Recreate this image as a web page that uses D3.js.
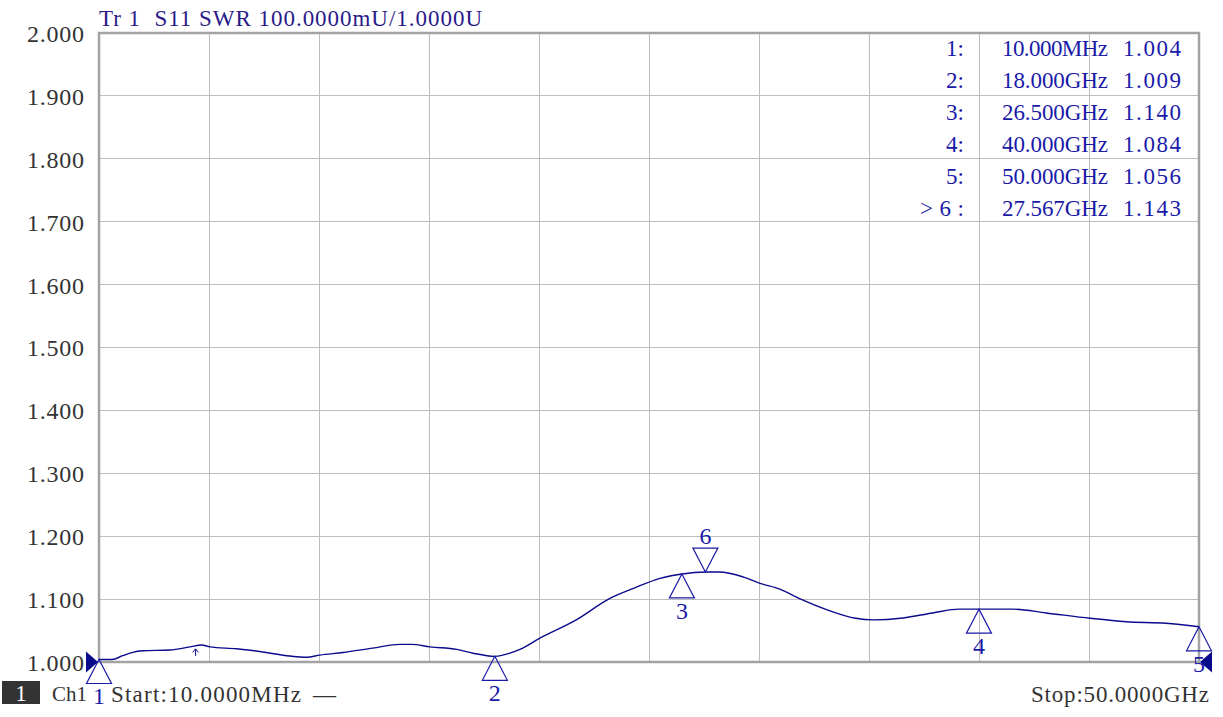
<!DOCTYPE html>
<html>
<head>
<meta charset="utf-8">
<script src="https://cdn.jsdelivr.net/npm/d3@7"></script>
<style>
  html, body { margin: 0; padding: 0; background: #fff; }
  svg { display: block; }
  text { font-family: "Liberation Serif", "DejaVu Serif", serif; }
</style>
</head>
<body>
<svg id="chart" width="1223" height="717"></svg>
<script>
// ---- data (GHz, SWR) ----
const traceFreq = [0.01, 0.6, 1.09, 1.5, 2.0, 3.23, 4.14, 4.68, 5.05, 6.27, 7.45, 8.68, 9.45, 10.05, 11.1, 12.45, 13.68, 14.23, 15.05, 16.27, 17.0, 18.0, 18.68, 19.14, 20.05, 21.7, 23.23, 24.3, 25.5, 26.5, 27.6, 28.2, 29.3, 30.05, 30.95, 31.9, 33.1, 34.4, 35.2, 36.55, 37.9, 39.1, 40.0, 41.55, 43.05, 45.05, 46.7, 48.5, 50.0];
const traceSWR  = [1.004, 1.004, 1.010, 1.015, 1.018, 1.019, 1.024, 1.027, 1.024, 1.021, 1.016, 1.0095, 1.0075, 1.011, 1.015, 1.022, 1.028, 1.028, 1.024, 1.020, 1.014, 1.009, 1.014, 1.020, 1.038, 1.067, 1.101, 1.117, 1.133, 1.140, 1.143, 1.143, 1.135, 1.125, 1.116, 1.100, 1.083, 1.0695, 1.067, 1.070, 1.078, 1.084, 1.084, 1.084, 1.078, 1.0695, 1.064, 1.0615, 1.056];

const markerIds   = ["1", "2", "3", "4", "5", "6"];
const markerFreq  = [0.01, 18.0, 26.5, 40.0, 50.0, 27.567];
const markerSWR   = [1.004, 1.009, 1.140, 1.084, 1.056, 1.143];
const markerFreqLabels = ["10.000MHz", "18.000GHz", "26.500GHz", "40.000GHz", "50.000GHz", "27.567GHz"];
const markerValLabels  = ["1.004", "1.009", "1.140", "1.084", "1.056", "1.143"];
const activeMarker = "6";

const yTicks = [1.0, 1.1, 1.2, 1.3, 1.4, 1.5, 1.6, 1.7, 1.8, 1.9, 2.0];
const xStart = 0.01, xStop = 50.0, xDivisions = 10;
const titleText = "Tr 1  S11 SWR 100.0000mU/1.0000U";
const startText = "Start:10.0000MHz";
const stopText = "Stop:50.0000GHz";
const smallArrowFreq = 4.4;

// ---- layout ----
const L = 99, R = 1199, T = 33, B = 662;
const svg = d3.select("#chart");
const x = d3.scaleLinear().domain([xStart, xStop]).range([L, R]);
const y = d3.scaleLinear().domain([1.0, 2.0]).range([B, T]);

const traceColor = "#0a0a8c";
const markColor = "#1a1aa8";
const gridColor = "#bdbdbd";
const frameColor = "#a3a3a3";
const labelColor = "#333333";

// gridlines
const xGrid = d3.range(xDivisions + 1).map(i => xStart + i * (xStop - xStart) / xDivisions);
svg.append("g").selectAll("line.vg").data(xGrid).join("line")
  .attr("x1", d => x(d)).attr("x2", d => x(d))
  .attr("y1", T).attr("y2", B)
  .attr("stroke", gridColor).attr("stroke-width", 1).attr("shape-rendering", "crispEdges");
svg.append("g").selectAll("line.hg").data(yTicks).join("line")
  .attr("x1", L).attr("x2", R)
  .attr("y1", d => y(d)).attr("y2", d => y(d))
  .attr("stroke", gridColor).attr("stroke-width", 1).attr("shape-rendering", "crispEdges");

// frame
svg.append("rect").attr("x", L).attr("y", T).attr("width", R - L).attr("height", B - T)
  .attr("fill", "none").attr("stroke", frameColor).attr("stroke-width", 2.5);

// y axis labels
const yAxis = d3.axisLeft(y).tickValues(yTicks).tickFormat(d3.format(".3f")).tickSize(0).tickPadding(15);
const gy = svg.append("g").attr("transform", `translate(${L},0)`).call(yAxis);
gy.select(".domain").remove();
gy.selectAll("text").attr("font-size", 24).attr("fill", labelColor)
  .attr("font-family", "Liberation Serif, serif").attr("dy", "0.35em")
  .attr("textLength", 57).attr("lengthAdjust", "spacing");

// title
svg.append("text").attr("x", L).attr("y", 26).attr("font-size", 23)
  .attr("fill", "#2a1a8a").style("white-space", "pre")
  .attr("textLength", 383).attr("lengthAdjust", "spacing").text(titleText);

// trace
const line = d3.line().x((d, i) => x(traceFreq[i])).y(d => y(d)).curve(d3.curveMonotoneX);
svg.append("path").datum(traceSWR).attr("d", line)
  .attr("fill", "none").attr("stroke", traceColor).attr("stroke-width", 1.4);

// small arrow under the trace
const ax = x(smallArrowFreq), ay = y(1.024) + 2;
svg.append("path")
  .attr("d", `M${ax},${ay} L${ax},${ay + 7} M${ax - 3},${ay + 3.5} L${ax},${ay} L${ax + 3},${ay + 3.5}`)
  .attr("fill", "none").attr("stroke", traceColor).attr("stroke-width", 1);

// reference / stimulus triangles
svg.append("path").attr("d", `M${L - 13},${y(1.0) - 10.5} L${L - 1},${y(1.0)} L${L - 13},${y(1.0) + 10.5} Z`)
  .attr("fill", traceColor);
svg.append("path").attr("d", `M${R + 13},${y(1.0) - 10.5} L${R + 1},${y(1.0)} L${R + 13},${y(1.0) + 10.5} Z`)
  .attr("fill", traceColor);

// markers
const mw = 12.5, mh = 24;
markerIds.forEach((id, i) => {
  const px = x(markerFreq[i]), py = y(markerSWR[i]);
  const g = svg.append("g");
  if (id === activeMarker) {
    g.append("path").attr("d", `M${px},${py} L${px - mw},${py - mh} L${px + mw},${py - mh} Z`)
      .attr("fill", "none").attr("stroke", markColor).attr("stroke-width", 1.2);
    g.append("text").attr("x", px).attr("y", py - mh - 12).attr("dy", "0.35em")
      .attr("text-anchor", "middle").attr("font-size", 24).attr("fill", markColor).text(id);
  } else {
    g.append("path").attr("d", `M${px},${py} L${px - mw},${py + mh} L${px + mw},${py + mh} Z`)
      .attr("fill", "none").attr("stroke", markColor).attr("stroke-width", 1.2);
    g.append("text").attr("x", px).attr("y", py + mh + 12.5).attr("dy", "0.35em")
      .attr("text-anchor", "middle").attr("font-size", 24).attr("fill", markColor).text(id);
  }
});

// marker table
markerIds.forEach((id, i) => {
  const ty = 48 + i * 32;
  const lab = svg.append("text").attr("x", 964).attr("y", ty).attr("dy", "0.35em").attr("text-anchor", "end")
    .attr("font-size", 23).attr("fill", markColor)
    .text((id === activeMarker ? ">" : "") + id + ":");
  if (id === activeMarker) lab.attr("textLength", 44).attr("lengthAdjust", "spacing");
  svg.append("text").attr("x", 1002).attr("y", ty).attr("dy", "0.35em")
    .attr("font-size", 23).attr("fill", markColor)
    .attr("textLength", 106).attr("lengthAdjust", "spacing").text(markerFreqLabels[i]);
  svg.append("text").attr("x", 1181).attr("y", ty).attr("dy", "0.35em").attr("text-anchor", "end")
    .attr("font-size", 23).attr("fill", markColor)
    .attr("textLength", 58).attr("lengthAdjust", "spacing").text(markerValLabels[i]);
});

// bottom status
svg.append("rect").attr("x", 2).attr("y", 681).attr("width", 38).attr("height", 23).attr("fill", "#333333");
svg.append("text").attr("x", 21).attr("y", 693).attr("dy", "0.35em").attr("text-anchor", "middle")
  .attr("font-size", 23).attr("fill", "#ffffff").text("1");
svg.append("text").attr("x", 52).attr("y", 694).attr("dy", "0.35em")
  .attr("font-size", 21).attr("fill", labelColor).text("Ch1");
svg.append("text").attr("x", 111).attr("y", 694).attr("dy", "0.35em")
  .attr("font-size", 23).attr("fill", labelColor)
  .attr("textLength", 190).attr("lengthAdjust", "spacing").text(startText);
svg.append("text").attr("x", 313).attr("y", 694).attr("dy", "0.35em")
  .attr("font-size", 23).attr("fill", labelColor).text("\u2014");
svg.append("text").attr("x", 1209).attr("y", 694).attr("dy", "0.35em").attr("text-anchor", "end")
  .attr("font-size", 23).attr("fill", labelColor)
  .attr("textLength", 178).attr("lengthAdjust", "spacing").text(stopText);
</script>
</body>
</html>
